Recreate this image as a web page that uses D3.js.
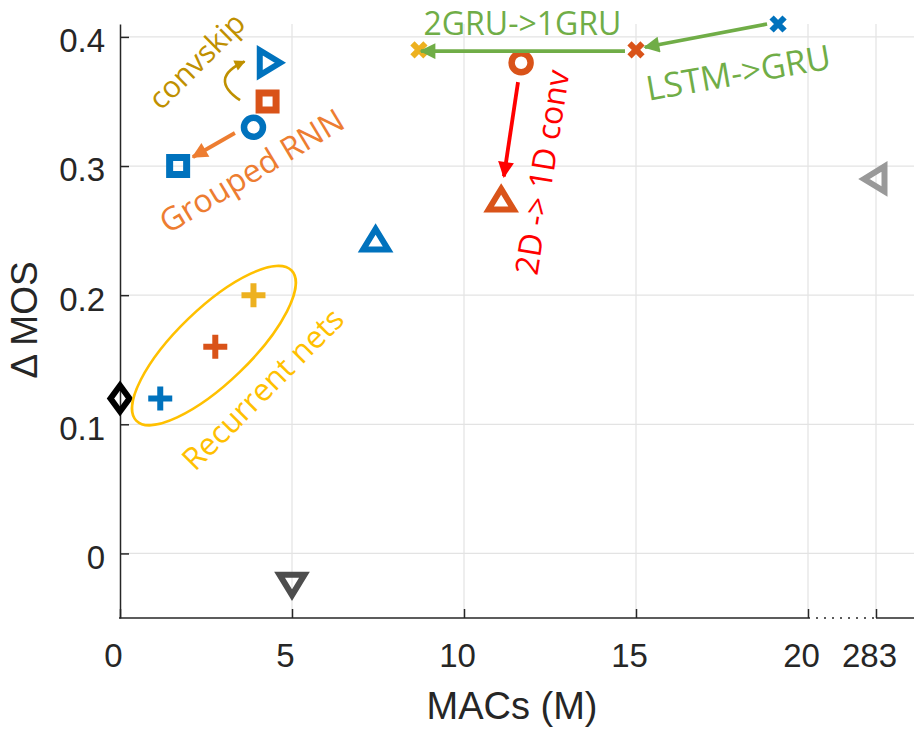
<!DOCTYPE html>
<html>
<head>
<meta charset="utf-8">
<script src="https://cdn.jsdelivr.net/npm/d3@7"></script>
<style>
  body { margin: 0; background: #fff; }
  svg { display: block; }
  .tick text { font-family: "Liberation Sans", Arial, sans-serif; fill: #262626; }
  .note { font-family: "Open Sans", "Noto Sans", sans-serif; }
</style>
</head>
<body>
<svg width="914" height="731"></svg>
<script>
// points: MACs (M) and delta MOS
var pointMacs = [0, 1.17, 2.77, 3.88, 1.69, 3.88, 4.29, 4.31, 7.43, 11.08, 11.66, 8.69, 15.0, 19.13, 283, 5.0];
var pointMos  = [0.12, 0.12, 0.16, 0.20, 0.30, 0.33, 0.35, 0.38, 0.242, 0.273, 0.38, 0.39, 0.39, 0.41, 0.29, -0.023];
var pointShape = ["diamond", "plus", "plus", "plus", "square", "circle", "square", "triRight",
                  "triUp", "triUp", "circle", "cross", "cross", "cross", "triLeft", "triDown"];
var pointColor = ["#000000", "#0072BD", "#D95319", "#EDB120", "#0072BD", "#0072BD", "#D95319", "#0072BD",
                  "#0072BD", "#D95319", "#D95319", "#EDB120", "#D95319", "#0072BD", "#999999", "#4d4d4d"];

var xTicks = [0, 5, 10, 15, 20, 283];
var yTicks = [0, 0.1, 0.2, 0.3, 0.4];

// annotations (data coordinates)
var arrows = [
  {from: [14.68, 0.389], to: [8.75, 0.389], color: "#70AD47"},
  {from: [18.81, 0.41],  to: [15.26, 0.392], color: "#70AD47"},
  {from: [11.57, 0.365], to: [11.16, 0.292], color: "#FF0000"},
  {from: [3.34, 0.3256], to: [2.12, 0.307], color: "#ED7D31"}
];
var notes = [
  {text: "convskip",      at: [2.21, 0.382],  rot: -45, size: 30, color: "#BF9000"},
  {text: "Grouped RNN",   at: [3.81, 0.297],  rot: -31, size: 32, color: "#ED7D31"},
  {text: "2GRU->1GRU",    at: [11.7, 0.4115], rot: 0,   size: 32, color: "#70AD47"},
  {text: "LSTM->GRU",     at: [17.97, 0.373], rot: -10, size: 34, color: "#70AD47"},
  {text: "2D -> 1D conv", at: [12.24, 0.2953], rot: -81, size: 32, color: "#FF0000"},
  {text: "Recurrent nets", at: [4.13, 0.1279], rot: -45, size: 31, color: "#FFC000"}
];

var svg = d3.select("svg");

// broken x axis: 0..20 linear, then a jump to 283
var x = d3.scaleLinear().domain([0, 20, 283, 290]).range([120, 808, 876, 914]);
var y = d3.scaleLinear().domain([-0.05, 0.41]).range([618, 24]);

// grid
svg.append("g").selectAll("line")
  .data(xTicks.slice(1)).enter().append("line")
  .attr("x1", d => x(d)).attr("x2", d => x(d))
  .attr("y1", y(0.41)).attr("y2", y(-0.05))
  .attr("stroke", "#e3e3e3").attr("stroke-width", 1.2);
svg.append("g").selectAll("line")
  .data(yTicks).enter().append("line")
  .attr("x1", x(0)).attr("x2", 914)
  .attr("y1", d => y(d)).attr("y2", d => y(d))
  .attr("stroke", "#e3e3e3").attr("stroke-width", 1.2);

// y axis, ticks pointing inward
var yAxis = svg.append("g")
  .attr("transform", "translate(" + x(0) + ",0)")
  .call(d3.axisLeft(y).tickValues(yTicks).tickFormat(d => d === 0 ? "0" : d3.format(".1f")(d))
        .tickSizeInner(-9).tickSizeOuter(0).tickPadding(15));
yAxis.select(".domain").attr("stroke", "#262626").attr("stroke-width", 1.5);
yAxis.selectAll(".tick line").attr("stroke", "#262626").attr("stroke-width", 1.5);
yAxis.selectAll(".tick text").attr("font-size", 33).attr("dy", "0.45em");

// x axis
var xAxis = svg.append("g")
  .attr("transform", "translate(0," + y(-0.05) + ")")
  .call(d3.axisBottom(x).tickValues(xTicks).tickFormat(d3.format("d"))
        .tickSizeInner(-9).tickSizeOuter(0).tickPadding(26));
xAxis.select(".domain").remove();
xAxis.selectAll(".tick line").attr("stroke", "#262626").attr("stroke-width", 1.5);
xAxis.selectAll(".tick text").attr("font-size", 33).attr("dx", -7);
xAxis.append("line").attr("x1", x(0) - 1).attr("x2", x(20)).attr("stroke", "#262626").attr("stroke-width", 1.5);
xAxis.append("line").attr("x1", x(20)).attr("x2", x(283))
  .attr("stroke", "#262626").attr("stroke-width", 1.5).attr("stroke-dasharray", "2,6");
xAxis.append("line").attr("x1", x(283)).attr("x2", 914).attr("stroke", "#262626").attr("stroke-width", 1.5);

// axis titles
svg.append("text")
  .attr("x", 512).attr("y", 719)
  .attr("text-anchor", "middle")
  .attr("font-family", "Liberation Sans, Arial, sans-serif")
  .attr("font-size", 38).attr("fill", "#262626")
  .text("MACs (M)");
svg.append("text")
  .attr("transform", "translate(37,320) rotate(-90)")
  .attr("text-anchor", "middle")
  .attr("font-family", "Liberation Sans, Arial, sans-serif")
  .attr("font-size", 37).attr("fill", "#262626")
  .text("\u0394 MOS");

// marker paths
function tri(rot) {
  var p = [[0, -12], [12.5, 8.5], [-12.5, 8.5]].map(function(v) {
    var a = rot * Math.PI / 180;
    return [v[0] * Math.cos(a) - v[1] * Math.sin(a), v[0] * Math.sin(a) + v[1] * Math.cos(a)];
  });
  return "M" + p.join("L") + "Z";
}
var shapes = {
  diamond: "M0,-13L9.5,0L0,13L-9.5,0Z",
  plus: "M-12,0H12M0,-12V12",
  cross: "M-6.5,-6.5L6.5,6.5M-6.5,6.5L6.5,-6.5",
  square: "M-8.5,-8.5H8.5V8.5H-8.5Z",
  circle: "M9.5,0A9.5,9.5 0 1,1 -9.5,0A9.5,9.5 0 1,1 9.5,0Z",
  triUp: tri(0),
  triDown: tri(180),
  triRight: tri(90),
  triLeft: tri(-90)
};
var strokeW = {diamond: 6, plus: 6, cross: 6, square: 7, circle: 6.5, triUp: 6, triDown: 6, triRight: 6, triLeft: 6};

svg.append("g").selectAll("path")
  .data(pointMacs).enter().append("path")
  .attr("transform", (d, i) => "translate(" + x(d) + "," + y(pointMos[i]) + ")")
  .attr("d", (d, i) => shapes[pointShape[i]])
  .attr("fill", "none")
  .attr("stroke", (d, i) => pointColor[i])
  .attr("stroke-width", (d, i) => strokeW[pointShape[i]])
  .attr("stroke-linejoin", "miter");

// arrowheads
var defs = svg.append("defs");
["#70AD47", "#FF0000", "#ED7D31", "#BF9000"].forEach(function(c, i) {
  defs.append("marker")
    .attr("id", "ah" + i)
    .attr("viewBox", "0 0 10 10").attr("refX", 9).attr("refY", 5)
    .attr("markerWidth", 5).attr("markerHeight", 4.2)
    .attr("markerUnits", "strokeWidth")
    .attr("orient", "auto")
    .append("path").attr("d", "M0,0L10,5L0,10Z").attr("fill", c);
});
var headId = {"#70AD47": "ah0", "#FF0000": "ah1", "#ED7D31": "ah2", "#BF9000": "ah3"};

svg.append("g").selectAll("line")
  .data(arrows).enter().append("line")
  .attr("x1", d => x(d.from[0])).attr("y1", d => y(d.from[1]))
  .attr("x2", d => x(d.to[0])).attr("y2", d => y(d.to[1]))
  .attr("stroke", d => d.color)
  .attr("stroke-width", 3.8)
  .attr("marker-end", d => "url(#" + headId[d.color] + ")");

// curved convskip arrow
svg.append("path")
  .attr("d", "M" + x(3.49) + "," + y(0.351) + "Q" + x(2.55) + "," + y(0.368) + " " + x(3.62) + "," + y(0.381))
  .attr("fill", "none").attr("stroke", "#BF9000").attr("stroke-width", 2.6)
  .attr("marker-end", "url(#ah3)");

// recurrent nets ellipse
svg.append("ellipse")
  .attr("transform", "translate(" + x(2.73) + "," + y(0.161) + ") rotate(-44)")
  .attr("rx", 108).attr("ry", 37)
  .attr("fill", "none").attr("stroke", "#FFC000").attr("stroke-width", 2.6);

// labels
svg.append("g").selectAll("text")
  .data(notes).enter().append("text")
  .attr("class", "note")
  .attr("transform", d => "translate(" + x(d.at[0]) + "," + y(d.at[1]) + ") rotate(" + d.rot + ")")
  .attr("text-anchor", "middle")
  .attr("dominant-baseline", "central")
  .attr("font-size", d => d.size)
  .attr("fill", d => d.color)
  .text(d => d.text);
</script>
</body>
</html>
